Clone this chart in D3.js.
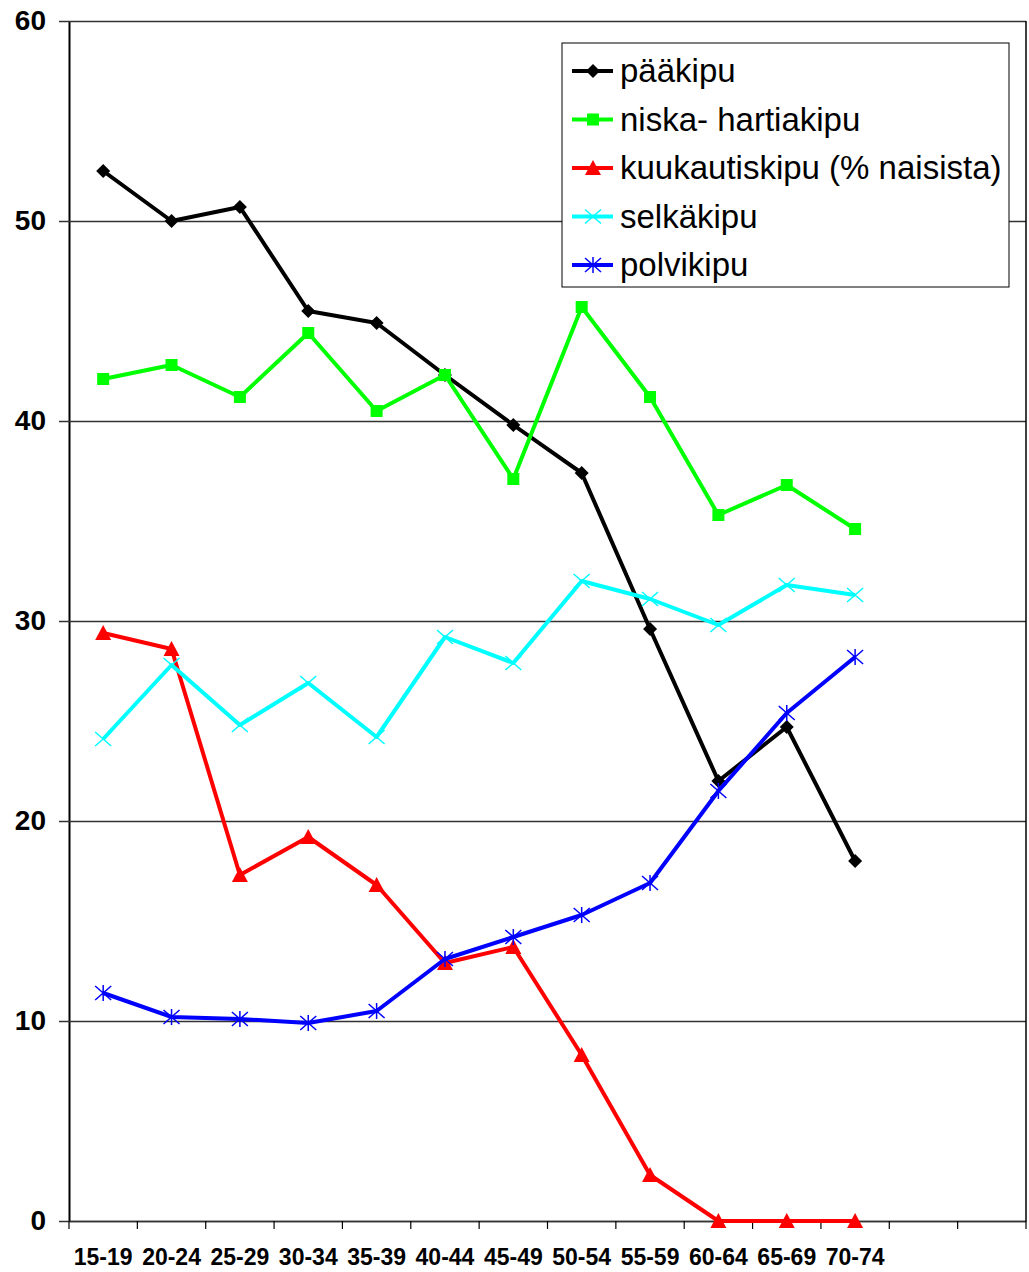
<!DOCTYPE html>
<html>
<head>
<meta charset="utf-8">
<script src="https://cdn.jsdelivr.net/npm/d3@7"></script>
<style>
  body { margin: 0; background: #fff; }
  text { font-family: "Liberation Sans", Arial, sans-serif; }
</style>
</head>
<body>
<svg id="chart"></svg>
<script>
let ageGroups = ['15-19', '20-24', '25-29', '30-34', '35-39', '40-44', '45-49',
  '50-54', '55-59', '60-64', '65-69', '70-74', '', ' '];

let paakipu = [52.5, 50.0, 50.7, 45.5, 44.9, 42.3, 39.8, 37.4, 29.6, 22.0, 24.7, 18.0];
let niskaHartiakipu = [42.1, 42.8, 41.2, 44.4, 40.5, 42.3, 37.1, 45.7, 41.2, 35.3, 36.8, 34.6];
let kuukautiskipu = [29.4, 28.6, 17.3, 19.2, 16.8, 12.9, 13.7, 8.3, 2.3, 0, 0, 0];
let selkakipu = [24.1, 27.8, 24.8, 26.9, 24.2, 29.2, 27.9, 32.0, 31.1, 29.8, 31.8, 31.3];
let polvikipu = [11.4, 10.2, 10.1, 9.9, 10.5, 13.1, 14.2, 15.3, 16.9, 21.5, 25.4, 28.2];

let yTicks = [0, 10, 20, 30, 40, 50, 60];

let seriesNames = ['pääkipu', 'niska- hartiakipu', 'kuukautiskipu (% naisista)', 'selkäkipu', 'polvikipu'];

let config = {
  svg: { width: 1029, height: 1272 },
  plot: { x: 69, y: 21, width: 957, height: 1200 },
  legend: { x: 562, y: 43, width: 447, height: 244, rowHeight: 48.5 }
};

let series = [
  { name: seriesNames[0], values: paakipu, color: '#000000', marker: 'diamond' },
  { name: seriesNames[1], values: niskaHartiakipu, color: '#00ff00', marker: 'square' },
  { name: seriesNames[2], values: kuukautiskipu, color: '#ff0000', marker: 'triangle' },
  { name: seriesNames[3], values: selkakipu, color: '#00ffff', marker: 'x' },
  { name: seriesNames[4], values: polvikipu, color: '#0000ff', marker: 'star' }
];

let svg = d3.select('svg#chart')
  .attr('width', config.svg.width)
  .attr('height', config.svg.height);

let scale = {};
scale.x = d3.scaleBand()
  .domain(ageGroups)
  .range([config.plot.x, config.plot.x + config.plot.width]);
scale.y = d3.scaleLinear()
  .domain([0, 60])
  .range([config.plot.y + config.plot.height, config.plot.y]);

// gridlines + y axis
let axisY = d3.axisLeft(scale.y)
  .tickValues(yTicks)
  .tickSize(-(config.plot.width))
  .tickPadding(23)
  .tickSizeOuter(0);

let gy = svg.append('g')
  .attr('transform', translate(config.plot.x, 0))
  .call(axisY);
gy.select('.domain').attr('stroke', '#000').attr('stroke-width', 2);
gy.selectAll('.tick line')
  .attr('x1', -10)
  .attr('stroke', '#333')
  .attr('stroke-width', 1.5);
gy.selectAll('.tick text')
  .attr('font-size', 28)
  .attr('font-weight', 'bold')
  .attr('fill', '#000')
  .attr('font-family', '"Liberation Sans", Arial, sans-serif');

// right border
svg.append('line')
  .attr('x1', config.plot.x + config.plot.width)
  .attr('x2', config.plot.x + config.plot.width)
  .attr('y1', scale.y(60))
  .attr('y2', scale.y(0))
  .attr('stroke', '#000')
  .attr('stroke-width', 1.5);

// x axis with ticks at band boundaries
let axisX = d3.axisBottom(scale.x).tickSize(0).tickPadding(28);
let gx = svg.append('g')
  .attr('transform', translate(0, scale.y(0)))
  .call(axisX);
gx.select('.domain').attr('stroke', '#333').attr('stroke-width', 1.5);
gx.selectAll('.tick text')
  .attr('font-size', 23)
  .attr('font-weight', 'bold')
  .attr('fill', '#000')
  .attr('font-family', '"Liberation Sans", Arial, sans-serif');

let bounds = ageGroups.map(d => scale.x(d)).concat([scale.x.range()[1]]);
gx.selectAll('line.bound')
  .data(bounds)
  .enter()
  .append('line')
  .attr('class', 'bound')
  .attr('x1', d => d).attr('x2', d => d)
  .attr('y1', 0).attr('y2', 8)
  .attr('stroke', '#000')
  .attr('stroke-width', 1.2);

let cx = (d, i) => scale.x(ageGroups[i]) + scale.x.bandwidth() / 2;

let line = d3.line()
  .x((d, i) => cx(d, i))
  .y(d => scale.y(d));

function drawMarker(g, type, color) {
  if (type === 'diamond') {
    g.append('path').attr('d', 'M0,-7L7,0L0,7L-7,0Z').attr('fill', color);
  } else if (type === 'square') {
    g.append('rect').attr('x', -6).attr('y', -6).attr('width', 12).attr('height', 12).attr('fill', color);
  } else if (type === 'triangle') {
    g.append('path').attr('d', 'M0,-8L8,7L-8,7Z').attr('fill', color);
  } else if (type === 'x') {
    g.append('path').attr('d', 'M-8,-7L8,7M-8,7L8,-7').attr('stroke', color).attr('stroke-width', 1.5).attr('fill', 'none');
  } else if (type === 'star') {
    g.append('path').attr('d', 'M-8,-7L8,7M-8,7L8,-7M0,-8L0,8').attr('stroke', color).attr('stroke-width', 1.5).attr('fill', 'none');
  }
}

let plot = svg.append('g').attr('id', 'plot');

series.forEach(s => {
  let g = plot.append('g');
  g.append('path')
    .datum(s.values)
    .attr('d', line)
    .attr('fill', 'none')
    .attr('stroke', s.color)
    .attr('stroke-width', 4)
    .attr('stroke-linejoin', 'round');

  g.selectAll('g.marker')
    .data(s.values)
    .enter()
    .append('g')
    .attr('class', 'marker')
    .attr('transform', (d, i) => translate(cx(d, i), scale.y(d)))
    .each(function() { drawMarker(d3.select(this), s.marker, s.color); });
});

// legend
let legend = svg.append('g')
  .attr('id', 'legend')
  .attr('transform', translate(config.legend.x, config.legend.y));

legend.append('rect')
  .attr('width', config.legend.width)
  .attr('height', config.legend.height)
  .attr('fill', '#fff')
  .attr('stroke', '#000')
  .attr('stroke-width', 1);

series.forEach((s, i) => {
  let y = 28 + i * config.legend.rowHeight;
  let row = legend.append('g').attr('transform', translate(0, y));
  row.append('line')
    .attr('x1', 10).attr('x2', 51)
    .attr('stroke', s.color)
    .attr('stroke-width', 4);
  let m = row.append('g').attr('transform', translate(31, 0));
  drawMarker(m, s.marker, s.color);
  row.append('text')
    .attr('x', 58)
    .attr('y', 11)
    .attr('font-size', 33)
    .attr('fill', '#000')
    .text(s.name);
});

function translate(x, y) {
  return 'translate(' + x + ',' + y + ')';
}
</script>
</body>
</html>
